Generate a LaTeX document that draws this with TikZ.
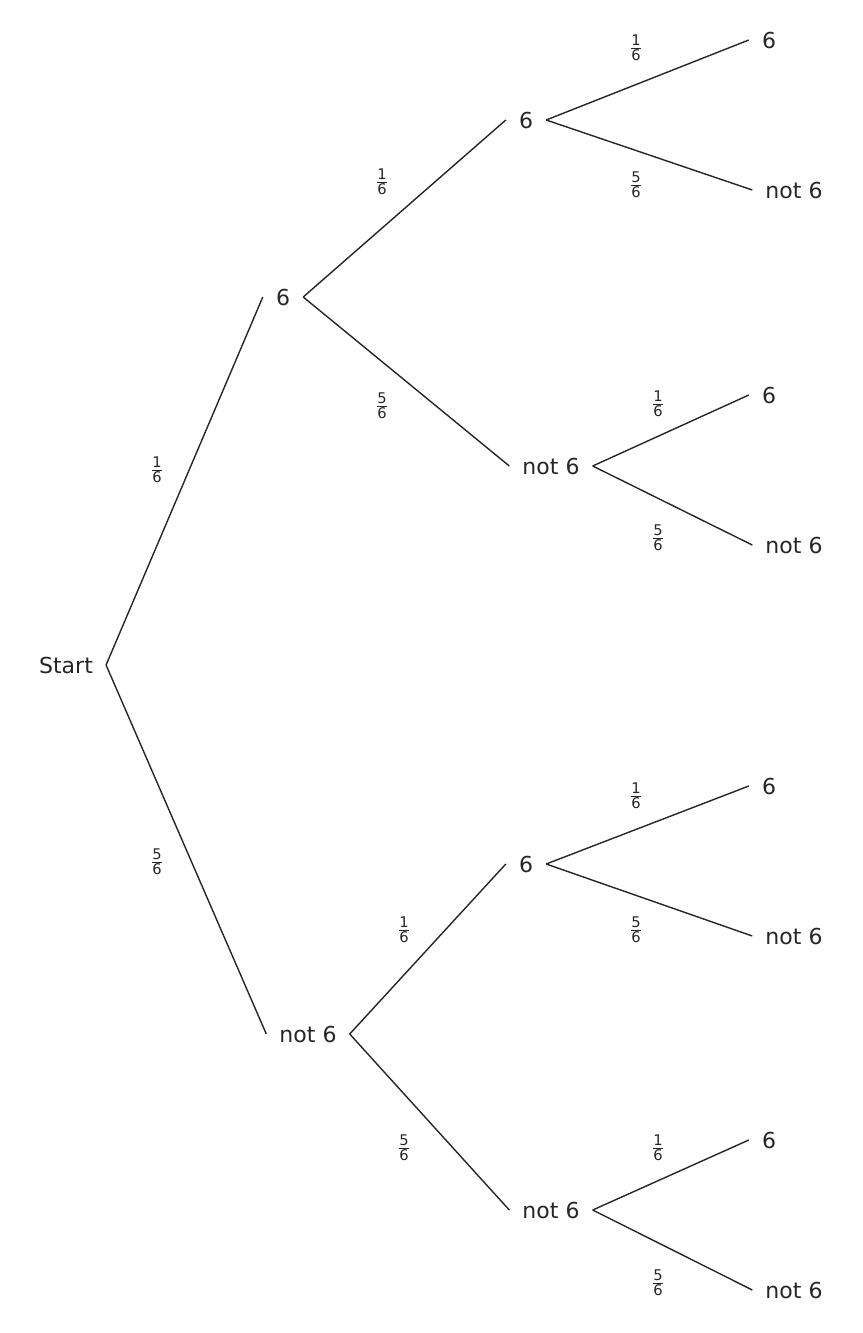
\documentclass[tikz,border=0pt]{standalone}
\usepackage{amsmath}
\usepackage{fontspec}
\setmainfont{DejaVu Sans}
\tikzset{
  lvl/.style={inner xsep=13pt, inner ysep=2pt, font=\fontsize{22}{26}\selectfont, text=black!85},
  prob/.style={font=\fontsize{21}{24}\selectfont, text=black!85},
  branch/.style={thick, black!85, line width=1.4pt}
}
\newcommand{\fr}[2]{$\frac{\text{#1}}{\text{#2}}$}
\begin{document}
\begin{tikzpicture}[x=1pt,y=-1pt]
\useasboundingbox (0,0) rectangle (862,1333);

\node[lvl] (start) at (66,665) {Start};
\node[lvl] (a) at (283,297) {6};
\node[lvl] (b) at (308,1034) {not 6};

\node[lvl] (aa) at (526,120) {6};
\node[lvl] (ab) at (551,466) {not 6};
\node[lvl] (ba) at (526,864) {6};
\node[lvl] (bb) at (551,1210) {not 6};

\node[lvl] (aaa) at (769,40) {6};
\node[lvl] (aab) at (794,190) {not 6};
\node[lvl] (aba) at (769,395) {6};
\node[lvl] (abb) at (794,545) {not 6};
\node[lvl] (baa) at (769,786) {6};
\node[lvl] (bab) at (794,936) {not 6};
\node[lvl] (bba) at (769,1140) {6};
\node[lvl] (bbb) at (794,1290) {not 6};

% branches
\draw[branch] (start.east) -- (a.west);
\draw[branch] (start.east) -- (b.west);
\draw[branch] (a.east) -- (aa.west);
\draw[branch] (a.east) -- (ab.west);
\draw[branch] (b.east) -- (ba.west);
\draw[branch] (b.east) -- (bb.west);
\draw[branch] (aa.east) -- (aaa.west);
\draw[branch] (aa.east) -- (aab.west);
\draw[branch] (ab.east) -- (aba.west);
\draw[branch] (ab.east) -- (abb.west);
\draw[branch] (ba.east) -- (baa.west);
\draw[branch] (ba.east) -- (bab.west);
\draw[branch] (bb.east) -- (bba.west);
\draw[branch] (bb.east) -- (bbb.west);

% probabilities
\node[prob] (p1) at (157,470) {\fr{1}{6}};
\node[prob] (p2) at (157,862) {\fr{5}{6}};
\node[prob] (p3) at (382,182) {\fr{1}{6}};
\node[prob] (p4) at (382,406) {\fr{5}{6}};
\node[prob] (p5) at (404,930) {\fr{1}{6}};
\node[prob] (p6) at (404,1148) {\fr{5}{6}};
\node[prob] (p7) at (636,48) {\fr{1}{6}};
\node[prob] (p8) at (636,185) {\fr{5}{6}};
\node[prob] (p9) at (658,404) {\fr{1}{6}};
\node[prob] (p10) at (658,538) {\fr{5}{6}};
\node[prob] (p11) at (636,796) {\fr{1}{6}};
\node[prob] (p12) at (636,930) {\fr{5}{6}};
\node[prob] (p13) at (658,1148) {\fr{1}{6}};
\node[prob] (p14) at (658,1283) {\fr{5}{6}};
\end{tikzpicture}
\end{document}
